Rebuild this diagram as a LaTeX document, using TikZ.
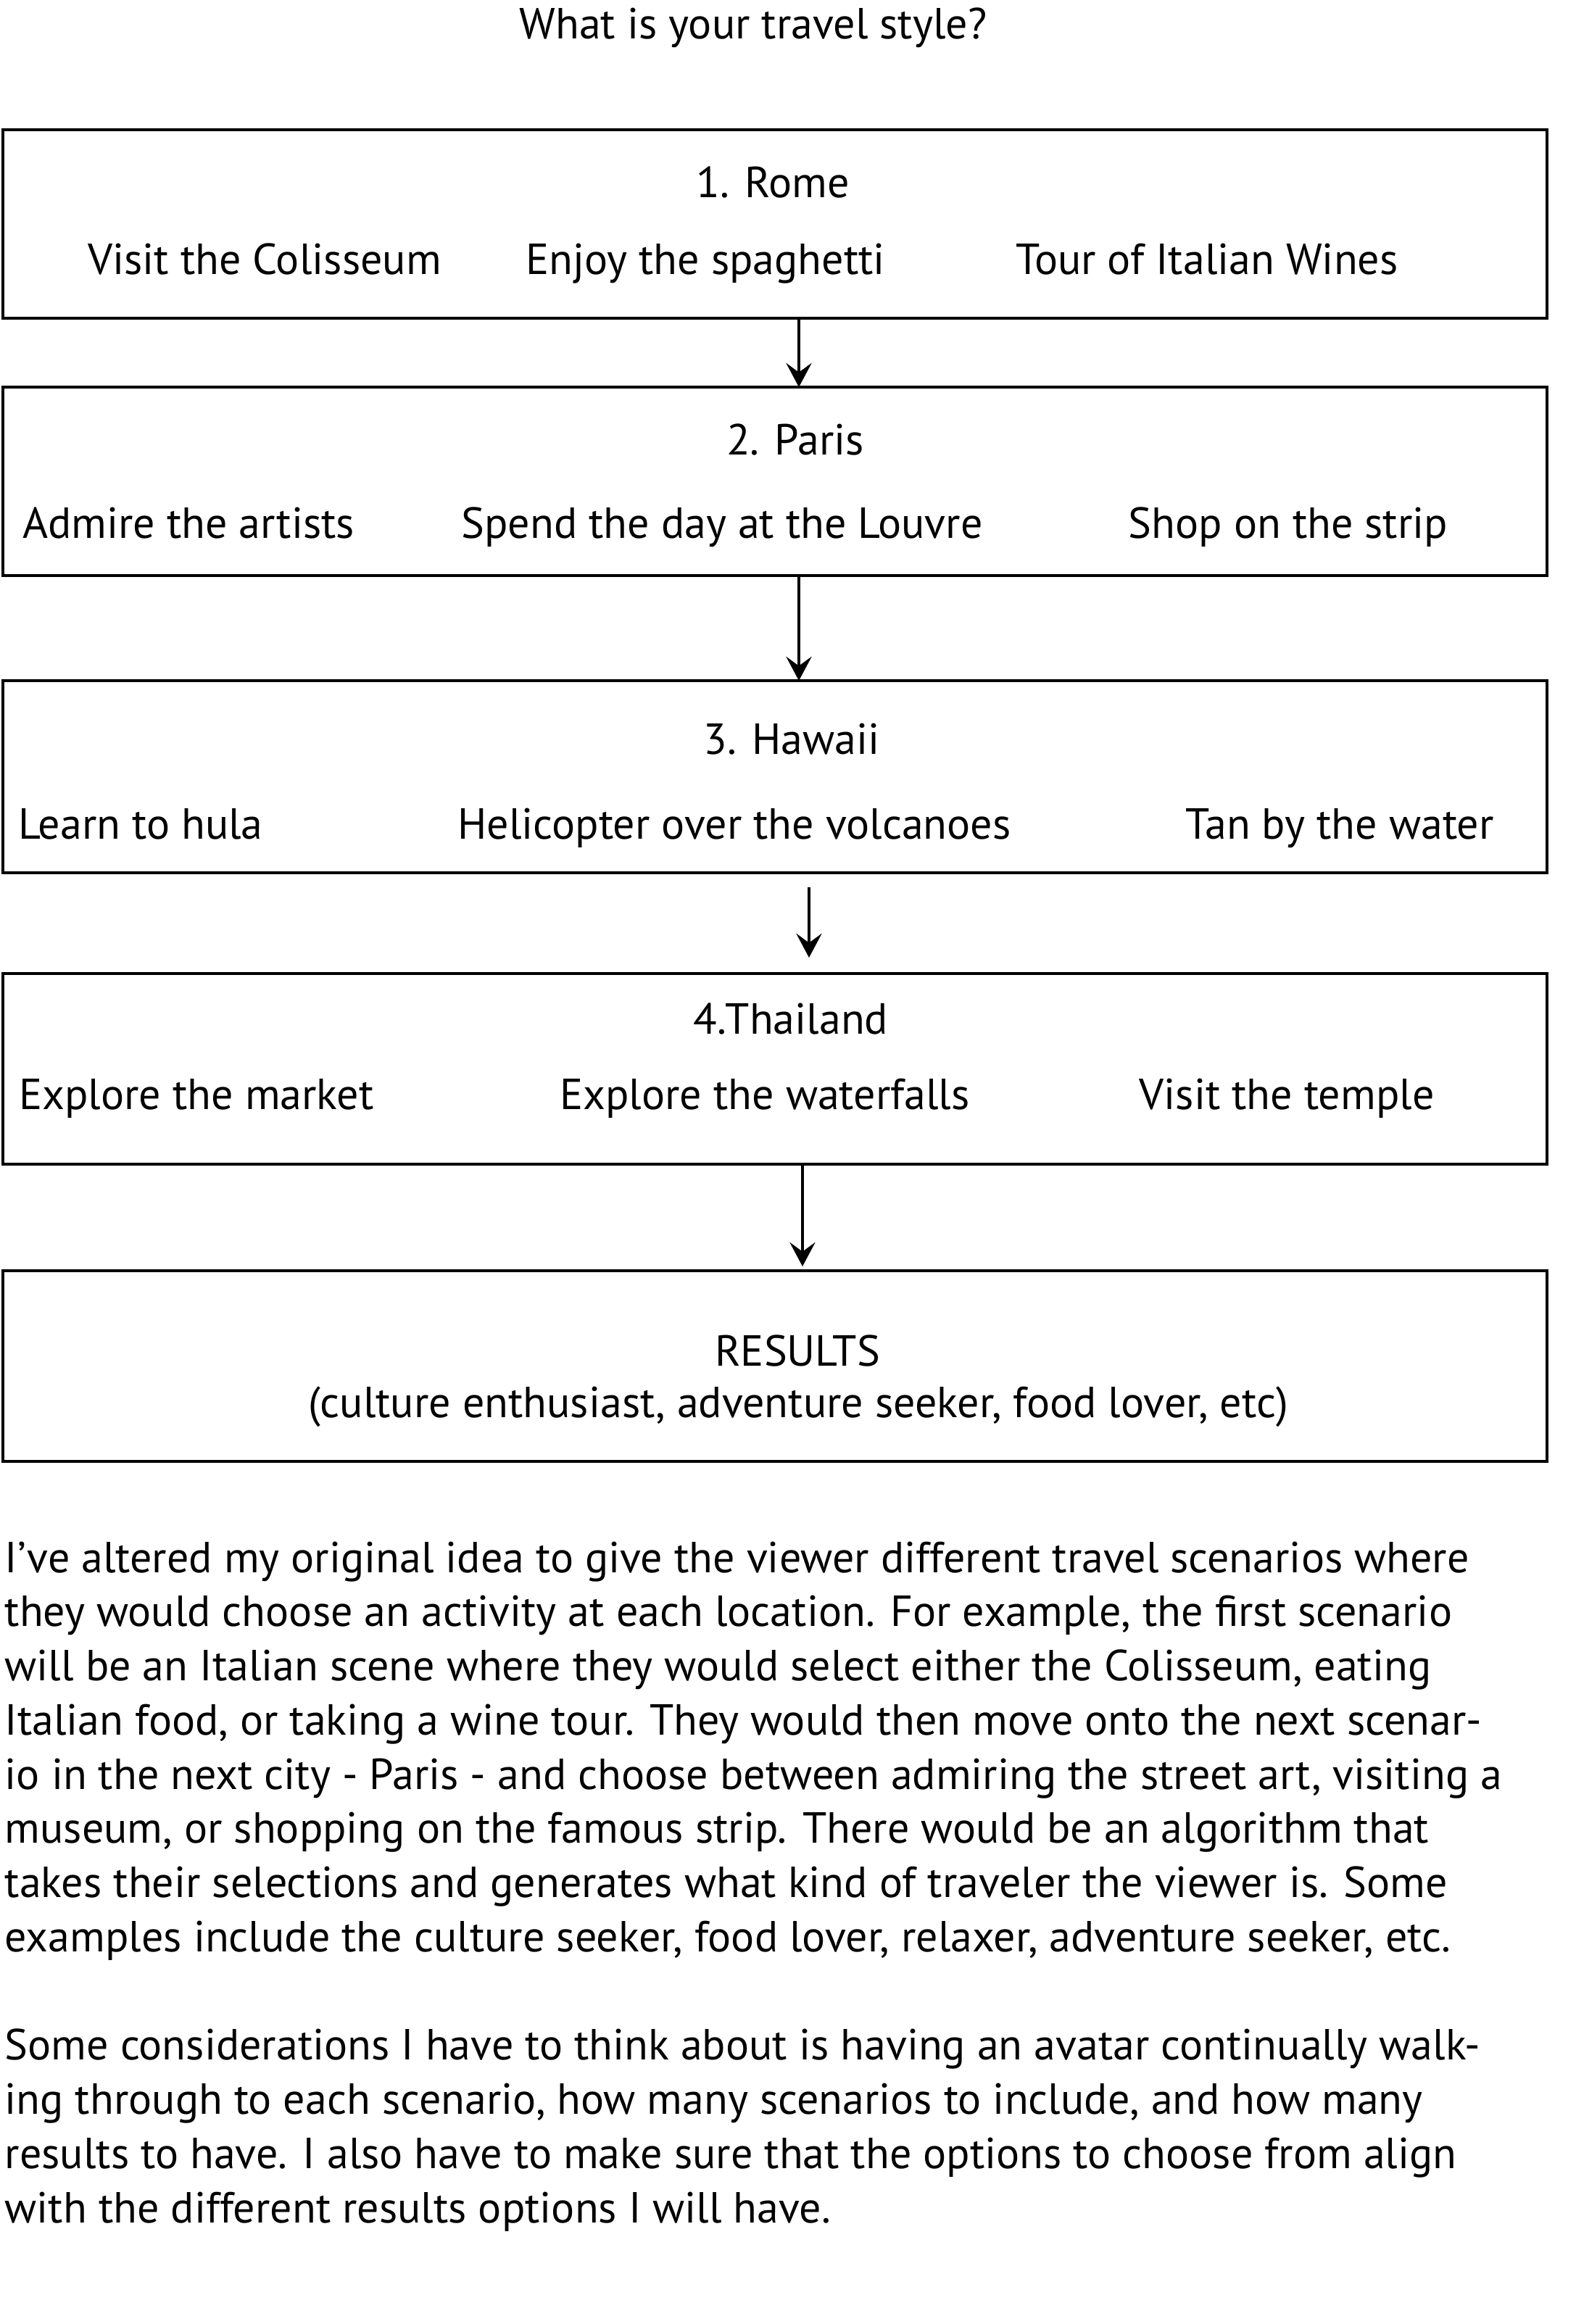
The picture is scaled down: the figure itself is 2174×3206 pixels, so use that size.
\documentclass[tikz,border=0pt]{standalone}
\usepackage{fontspec}
\setmainfont{PT Sans}
\usetikzlibrary{arrows.meta}
\newcommand\fs{\fontsize{15pt}{18.9pt}\selectfont}
\begin{document}
\begin{tikzpicture}[x=0.25pt,y=-0.25pt,
  box/.style={draw, line width=1pt, minimum width=532.5pt, inner sep=0pt, outer sep=0pt},
  txt/.style={anchor=base, inner sep=0pt, font=\fs},
  ptxt/.style={anchor=base west, inner sep=0pt, font=\fs},
  arr/.style={line width=0.85pt, -{Stealth[length=8.3pt,width=8.8pt,inset=3.2pt]}}]
\useasboundingbox (0,0) rectangle (2174,3206);
\fill[white] (0,0) rectangle (2174,3206);

\node[txt] (title) at (1039,53) {What is your travel style?};

% boxes
\node[box, minimum height=65pt] (b1) at (1069,309) {};
\node[box, minimum height=65pt] (b2) at (1069,664) {};
\node[box, minimum height=66.25pt] (b3) at (1069,1071.5) {};
\node[box, minimum height=65.75pt] (b4) at (1069,1474.5) {};
\node[box, minimum height=65.75pt] (b5) at (1069,1884.5) {};

% box 1
\node[txt] (rome) at (1066,272) {1. Rome};
\node[txt] (r1) at (365,378) {Visit the Colisseum};
\node[txt] (r2) at (973,378) {Enjoy the spaghetti};
\node[txt] (r3) at (1665,378) {Tour of Italian Wines};
% box 2
\node[txt] (paris) at (1097,627) {2. Paris};
\node[txt] (p1) at (260,742) {Admire the artists};
\node[txt] (p2) at (996,742) {Spend the day at the Louvre};
\node[txt] (p3) at (1777,742) {Shop on the strip};
% box 3
\node[txt] (hawaii) at (1092,1040) {3. Hawaii};
\node[txt] (h1) at (194,1157) {Learn to hula};
\node[txt] (h2) at (1013,1157) {Helicopter over the volcanoes};
\node[txt] (h3) at (1848,1157) {Tan by the water};
% box 4
\node[txt] (thai) at (1091,1426) {4.Thailand};
\node[txt] (t1) at (271,1530) {Explore the market};
\node[txt] (t2) at (1055,1530) {Explore the waterfalls};
\node[txt] (t3) at (1775,1530) {Visit the temple};
% box 5
\node[txt] (res) at (1100,1884) {RESULTS};
\node[txt] (res2) at (1101,1955) {(culture enthusiast, adventure seeker, food lover, etc)};

% arrows
\coordinate (x1) at (1102,0);
\coordinate (x3) at (1116,0);
\coordinate (x4) at (1107,0);
\draw[arr] (b1.south -| x1) -- (b2.north -| x1);
\draw[arr] (b2.south -| x1) -- (b3.north -| x1);
\draw[arr, shorten <=5pt, shorten >=5.5pt] (b3.south -| x3) -- (b4.north -| x3);
\draw[arr, shorten >=1.5pt] (b4.south -| x4) -- (b5.north -| x4);

% paragraph
\node[ptxt] (l1) at (6,2169) {I’ve altered my original idea to give the viewer different travel scenarios where};
\node[ptxt] (l2) at (6,2243.75) {they would choose an activity at each location. For example, the first scenario};
\node[ptxt] (l3) at (6,2318.5) {will be an Italian scene where they would select either the Colisseum, eating};
\node[ptxt] (l4) at (6,2393.25) {Italian food, or taking a wine tour. They would then move onto the next scenar-};
\node[ptxt] (l5) at (6,2468) {io in the next city - Paris - and choose between admiring the street art, visiting a};
\node[ptxt] (l6) at (6,2542.75) {museum, or shopping on the famous strip. There would be an algorithm that};
\node[ptxt] (l7) at (6,2617.5) {takes their selections and generates what kind of traveler the viewer is. Some};
\node[ptxt] (l8) at (6,2692.25) {examples include the culture seeker, food lover, relaxer, adventure seeker, etc.};
\node[ptxt] (m1) at (6,2841.75) {Some considerations I have to think about is having an avatar continually walk-};
\node[ptxt] (m2) at (6,2916.5) {ing through to each scenario, how many scenarios to include, and how many};
\node[ptxt] (m3) at (6,2991.25) {results to have. I also have to make sure that the options to choose from align};
\node[ptxt] (m4) at (6,3066) {with the different results options I will have.};
\end{tikzpicture}
\end{document}
